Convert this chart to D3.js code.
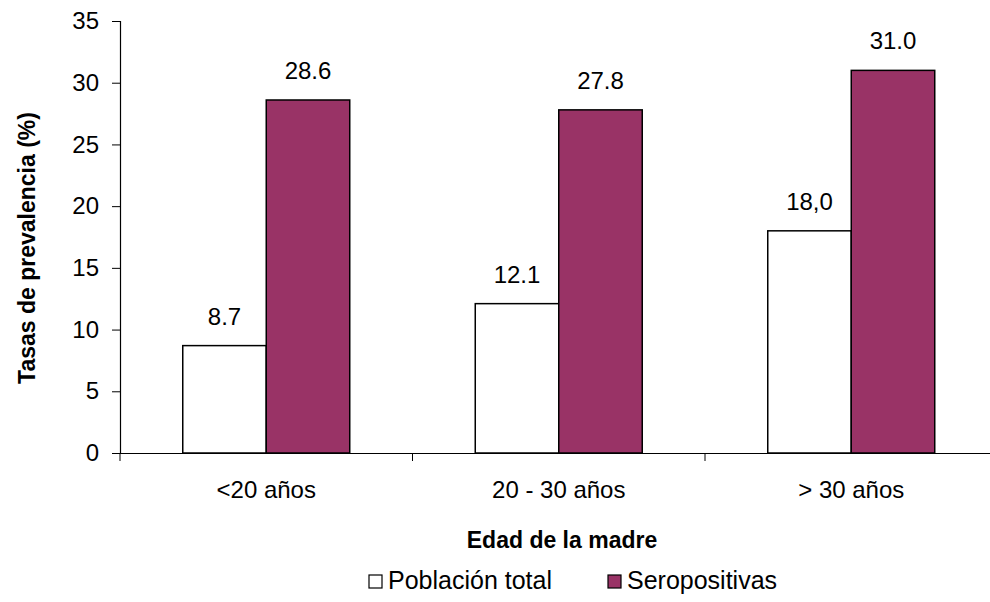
<!DOCTYPE html>
<html>
<head>
<meta charset="utf-8">
<script src="https://cdn.jsdelivr.net/npm/d3@7"></script>
<style>
  html, body { margin: 0; padding: 0; background: #fff; }
  svg { display: block; font-family: "Liberation Sans", Arial, sans-serif; }
</style>
</head>
<body>
<svg id="chart" width="990" height="602"></svg>
<script>
// Prevalence rates by mother's age group
const categories = ["<20 años", "20 - 30 años", "> 30 años"];
const seriesNames = ["Población total", "Seropositivas"];
const poblacionTotal = [8.7, 12.1, 18.0];
const seropositivas = [28.6, 27.8, 31.0];
const labelsTotal = ["8.7", "12.1", "18,0"];
const labelsSero = ["28.6", "27.8", "31.0"];
const yTicks = [0, 5, 10, 15, 20, 25, 30, 35];

const colors = ["#ffffff", "#993366"];
const FONT = "Liberation Sans, Arial, sans-serif";
const FS = 24;

const svg = d3.select("#chart");
const margin = { left: 120, top: 21, bottom: 149 };
const plotBottom = 602 - margin.bottom;
const bandStep = 292.5;

const x = d3.scaleBand()
  .domain(categories)
  .range([margin.left, margin.left + bandStep * categories.length])
  .paddingInner(0).paddingOuter(0);

const x1 = d3.scaleBand()
  .domain(seriesNames)
  .range([0, x.bandwidth()])
  .paddingInner(0)
  .paddingOuter(0.7516);

const y = d3.scaleLinear().domain([0, 35]).range([plotBottom, margin.top]);

// Y axis
const yAxis = svg.append("g")
  .attr("transform", `translate(${margin.left},0)`)
  .call(d3.axisLeft(y).tickValues(yTicks).tickSize(8).tickPadding(13).tickFormat(d3.format("d")));
yAxis.select(".domain").attr("stroke", "#000").attr("stroke-width", 1.2);
yAxis.selectAll(".tick line").attr("stroke", "#000");
yAxis.selectAll(".tick text").attr("font-size", FS).attr("fill", "#000")
  .attr("font-family", FONT);

// Bars
const data = categories.map((c, i) => ({
  cat: c,
  vals: [
    { s: seriesNames[0], v: poblacionTotal[i], label: labelsTotal[i], color: colors[0] },
    { s: seriesNames[1], v: seropositivas[i], label: labelsSero[i], color: colors[1] }
  ]
}));

const groups = svg.append("g").selectAll("g")
  .data(data).join("g")
  .attr("transform", d => `translate(${x(d.cat)},0)`);

groups.selectAll("rect")
  .data(d => d.vals).join("rect")
  .attr("x", d => x1(d.s))
  .attr("y", d => y(d.v))
  .attr("width", x1.bandwidth())
  .attr("height", d => plotBottom - y(d.v))
  .attr("fill", d => d.color)
  .attr("stroke", "#000")
  .attr("stroke-width", 1.5);

groups.selectAll("text.val")
  .data(d => d.vals).join("text")
  .attr("class", "val")
  .attr("x", d => x1(d.s) + x1.bandwidth() / 2)
  .attr("y", d => y(d.v) - 21)
  .attr("text-anchor", "middle")
  .attr("font-size", FS)
  .attr("fill", "#000")
  .text(d => d.label);

// X axis
const xAxis = svg.append("g")
  .attr("transform", `translate(0,${plotBottom})`)
  .call(d3.axisBottom(x).tickSize(0).tickPadding(28));
xAxis.select(".domain").attr("stroke", "#000").attr("stroke-width", 1.2);
xAxis.selectAll(".tick text").attr("font-size", FS).attr("fill", "#000")
  .attr("font-family", FONT);

// Category boundary ticks
const bounds = d3.range(categories.length + 1).map(i => margin.left + i * bandStep);
svg.append("g").selectAll("line")
  .data(bounds).join("line")
  .attr("x1", d => d).attr("x2", d => d)
  .attr("y1", plotBottom).attr("y2", plotBottom + 8)
  .attr("stroke", "#000");

// Axis titles
svg.append("text")
  .attr("x", 562).attr("y", 548)
  .attr("text-anchor", "middle")
  .attr("font-size", 23).attr("font-weight", "bold")
  .text("Edad de la madre");

svg.append("text")
  .attr("transform", "translate(35,248) rotate(-90)")
  .attr("text-anchor", "middle")
  .attr("font-size", 23).attr("font-weight", "bold")
  .text("Tasas de prevalencia (%)");

// Legend
const legend = svg.append("g").attr("transform", "translate(369,580)");
const legendX = [0, 239];
seriesNames.forEach((name, i) => {
  const g = legend.append("g").attr("transform", `translate(${legendX[i]},0)`);
  g.append("rect")
    .attr("x", 0).attr("y", -5).attr("width", 13).attr("height", 13)
    .attr("fill", colors[i]).attr("stroke", "#000").attr("stroke-width", 1.2);
  g.append("text")
    .attr("x", 19).attr("y", 9)
    .attr("font-size", 25)
    .text(name);
});
</script>
</body>
</html>
